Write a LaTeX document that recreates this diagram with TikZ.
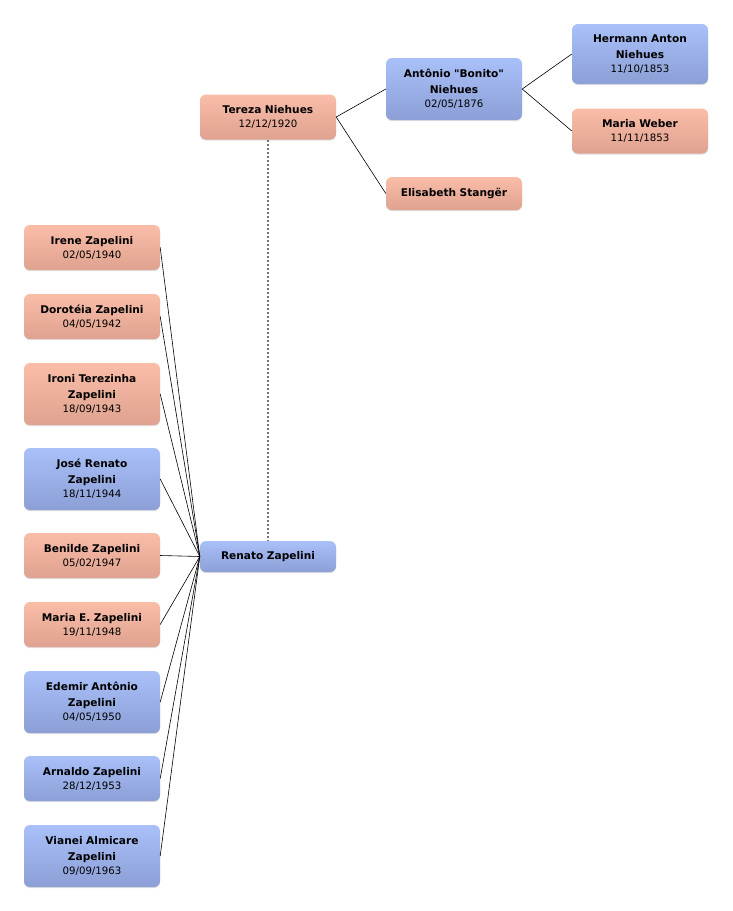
\documentclass[tikz,border=0pt]{standalone}
\usepackage{fontspec}
\newfontfamily\dvfont{DejaVu Sans}
\usetikzlibrary{shadows}
\definecolor{pinkT}{HTML}{F9BDA8}
\definecolor{pinkB}{HTML}{DFA290}
\definecolor{blueT}{HTML}{A9C0F8}
\definecolor{blueB}{HTML}{8C9FD6}
\newcommand{\pname}[1]{{\bfseries #1}}
\newcommand{\pdate}[1]{{\fontsize{10.2}{13.5}\selectfont #1}}
\tikzset{
  person/.style={rounded corners=6pt, minimum width=136pt, inner sep=2pt,
    align=center, text width=132pt, font=\dvfont\fontsize{10.6}{16}\selectfont,
    drop shadow={opacity=0.25, shadow xshift=0pt, shadow yshift=-1.2pt}},
  female/.style={person, top color=pinkT, bottom color=pinkB},
  male/.style={person, top color=blueT, bottom color=blueB},
  h2/.style={minimum height=45pt},
  h3/.style={minimum height=62pt},
  link/.style={draw=black, line width=0.6pt},
  spouse/.style={draw=black!55, line width=1.1pt, dash pattern=on 2pt off 2pt}
}
\begin{document}
\begin{tikzpicture}[x=1pt,y=-1pt]
\useasboundingbox (0,0) rectangle (732,911);
% ancestors
\node[female,h2] (tereza) at (268,117) {\pname{Tereza Niehues}\\[-2pt]\pdate{12/12/1920}};
\node[male,h3] (antonio) at (454,89) {\pname{Antônio "Bonito"}\\\pname{Niehues}\\[-2pt]\pdate{02/05/1876}};
\node[female,minimum height=33pt] (elisabeth) at (454,193.5) {\pname{Elisabeth Stangër}};
\node[male,minimum height=60pt] (hermann) at (640,54) {\pname{Hermann Anton}\\\pname{Niehues}\\[-2pt]\pdate{11/10/1853}};
\node[female,h2] (mweber) at (640,131) {\pname{Maria Weber}\\[-2pt]\pdate{11/11/1853}};
% Renato
\node[male,minimum height=31pt,minimum width=134pt] (renato) at (268,556.5) {\pname{Renato Zapelini}};
% children
\node[female,h2] (c1) at (92,247.5) {\pname{Irene Zapelini}\\[-2pt]\pdate{02/05/1940}};
\node[female,h2] (c2) at (92,316.5) {\pname{Dorotéia Zapelini}\\[-2pt]\pdate{04/05/1942}};
\node[female,h3] (c3) at (92,394) {\pname{Ironi Terezinha}\\\pname{Zapelini}\\[-2pt]\pdate{18/09/1943}};
\node[male,h3] (c4) at (92,479) {\pname{José Renato}\\\pname{Zapelini}\\[-2pt]\pdate{18/11/1944}};
\node[female,h2] (c5) at (92,555.5) {\pname{Benilde Zapelini}\\[-2pt]\pdate{05/02/1947}};
\node[female,h2] (c6) at (92,624.5) {\pname{Maria E. Zapelini}\\[-2pt]\pdate{19/11/1948}};
\node[male,h3] (c7) at (92,702) {\pname{Edemir Antônio}\\\pname{Zapelini}\\[-2pt]\pdate{04/05/1950}};
\node[male,h2] (c8) at (92,778.5) {\pname{Arnaldo Zapelini}\\[-2pt]\pdate{28/12/1953}};
\node[male,h3] (c9) at (92,856) {\pname{Vianei Almicare}\\\pname{Zapelini}\\[-2pt]\pdate{09/09/1963}};
% connectors
\draw[spouse] (tereza.south) -- (renato.north);
\draw[link] (tereza.east) -- (antonio.west);
\draw[link] (tereza.east) -- (elisabeth.west);
\draw[link] (antonio.east) -- (hermann.west);
\draw[link] (antonio.east) -- (mweber.west);
\foreach \c in {c1,c2,c3,c4,c5,c6,c7,c8,c9}
  \draw[link] (\c.east) -- (renato.west);
\end{tikzpicture}
\end{document}
